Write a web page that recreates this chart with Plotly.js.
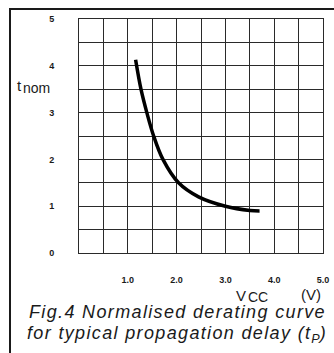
<!DOCTYPE html>
<html>
<head>
<meta charset="utf-8">
<script src="https://cdn.plot.ly/plotly-3.0.1.min.js"></script>
<style>
  html, body { margin: 0; padding: 0; background: #fff; }
  #chart { width: 334px; height: 353px; }
</style>
</head>
<body>
<div id="chart"></div>
<script>
// Data
const vcc  = [1.16, 1.27, 1.39, 1.53, 1.72, 2.04, 2.45, 3.00, 3.50, 3.70];
const tnom = [4.13, 3.50, 3.00, 2.50, 2.00, 1.50, 1.20, 1.00, 0.91, 0.90];

const xTickVals = [0, 0.5, 1, 1.5, 2, 2.5, 3, 3.5, 4, 4.5, 5];
const xTickText = ['', '', '1.0', '', '2.0', '', '3.0', '', '4.0', '', '5.0'];
const yTickVals = [0, 0.5, 1, 1.5, 2, 2.5, 3, 3.5, 4, 4.5, 5];
const yTickText = ['0', '', '1', '', '2', '', '3', '', '4', '', '5'];

const captionLine1 = 'Fig.4 Normalised derating curve';
const captionLine2 = 'for typical propagation delay (t';
const captionSub = 'P';

// Layout geometry (pixels)
const W = 334, H = 353;
const M = { l: 79, r: 11, t: 19, b: 100 };
const PW = W - M.l - M.r, PH = H - M.t - M.b;
const px = x => (x - M.l) / PW;
const py = y => (H - M.b - y) / PH;

const ink = '#1a1a1a';
const gridCol = '#2a2a2a';
const fam = 'Liberation Sans, Arial, sans-serif';
const tickFont = { family: fam, size: 9, color: ink, weight: 'bold' };
const capFont = { family: fam, size: 18, color: ink, style: 'italic' };
const lblFont = { family: fam, size: 15, color: ink };
const subFont = { family: fam, size: 14, color: ink };
const sp = s => '<span style="letter-spacing:1.35px">' + s + '</span>';

const trace = {
  x: vcc, y: tnom, type: 'scatter', mode: 'lines',
  line: { color: '#000', width: 3.5, shape: 'spline', smoothing: 1.0 },
  hoverinfo: 'skip'
};

const layout = {
  width: W, height: H,
  margin: M,
  paper_bgcolor: '#fff', plot_bgcolor: '#fff',
  showlegend: false,
  xaxis: {
    range: [0, 5], tickvals: xTickVals, ticktext: xTickText,
    showgrid: true, gridcolor: gridCol, gridwidth: 1,
    zeroline: false, showline: true, mirror: true, linecolor: gridCol, linewidth: 1,
    ticks: '', ticklabelstandoff: 18, tickfont: tickFont, fixedrange: true
  },
  yaxis: {
    range: [0, 5], tickvals: yTickVals, ticktext: yTickText,
    showgrid: true, gridcolor: gridCol, gridwidth: 1,
    zeroline: false, showline: true, mirror: true, linecolor: gridCol, linewidth: 1,
    ticks: '', ticklabelstandoff: 22, tickfont: tickFont, fixedrange: true
  },
  shapes: [
    { type: 'line', xref: 'paper', yref: 'paper', x0: px(9), x1: px(334), y0: py(9), y1: py(9),
      line: { color: ink, width: 2 } },
    { type: 'line', xref: 'paper', yref: 'paper', x0: px(10), x1: px(10), y0: py(9), y1: py(353),
      line: { color: ink, width: 2 } }
  ],
  annotations: [
    { xref: 'paper', yref: 'paper', x: px(15), y: py(85), xanchor: 'left', yanchor: 'middle',
      text: 't', showarrow: false, font: lblFont },
    { xref: 'paper', yref: 'paper', x: px(21), y: py(88), xanchor: 'left', yanchor: 'middle',
      text: 'nom', showarrow: false, font: subFont },
    { xref: 'paper', yref: 'paper', x: px(234), y: py(295), xanchor: 'left', yanchor: 'middle',
      text: 'V', showarrow: false, font: lblFont },
    { xref: 'paper', yref: 'paper', x: px(246), y: py(297), xanchor: 'left', yanchor: 'middle',
      text: 'CC', showarrow: false, font: subFont },
    { xref: 'paper', yref: 'paper', x: px(299), y: py(294), xanchor: 'left', yanchor: 'middle',
      text: '(V)', showarrow: false, font: lblFont },
    { xref: 'paper', yref: 'paper', x: px(27), y: py(312), xanchor: 'left', yanchor: 'middle',
      text: sp(captionLine1), showarrow: false, font: capFont },
    { xref: 'paper', yref: 'paper', x: px(25), y: py(334), xanchor: 'left', yanchor: 'middle',
      text: sp(captionLine2) + '<sub>' + captionSub + '</sub>' + sp(')'), showarrow: false, font: capFont }
  ]
};

Plotly.newPlot('chart', [trace], layout, { displayModeBar: false, staticPlot: true });
</script>
</body>
</html>
